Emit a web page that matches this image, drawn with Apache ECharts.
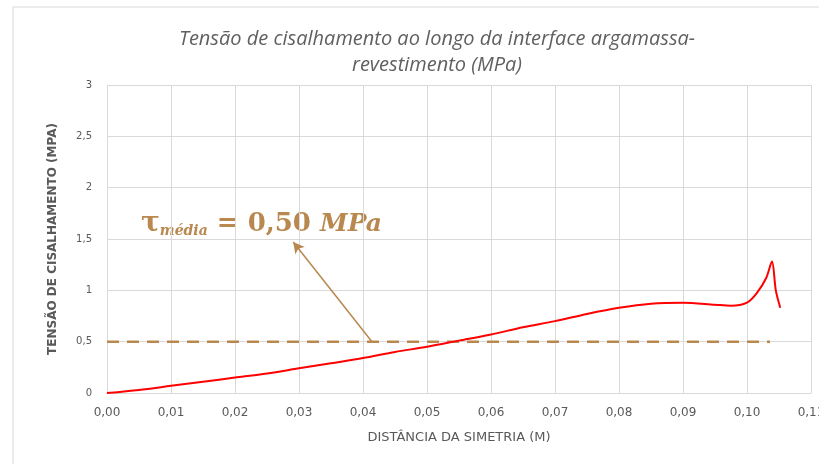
<!DOCTYPE html>
<html>
<head>
<meta charset="utf-8">
<script src="https://cdn.jsdelivr.net/npm/echarts@6/dist/echarts.min.js"></script>
<style>html,body{margin:0;padding:0;background:#fff;}#c{width:819px;height:464px;}</style>
</head>
<body>
<div id="c"></div>
<script>
// Distance from symmetry (m)
const distances = [0, 0.005, 0.01, 0.015, 0.02, 0.025, 0.03, 0.035, 0.04, 0.045, 0.05, 0.055, 0.06, 0.065, 0.07, 0.075, 0.08, 0.085, 0.09, 0.095, 0.0975, 0.1, 0.1015, 0.103, 0.1039, 0.1045, 0.1052];
// Shear stress (MPa)
const shearStress = [0, 0.03, 0.07, 0.11, 0.15, 0.19, 0.24, 0.29, 0.34, 0.40, 0.45, 0.51, 0.57, 0.64, 0.70, 0.77, 0.83, 0.87, 0.88, 0.86, 0.85, 0.88, 0.97, 1.12, 1.28, 1.0, 0.83];
// Average stress line
const avgStress = 0.5;
const avgLineX = [0, 0.1036];
// Arrow annotation endpoints (data units)
const arrowFrom = [0.0414, 0.5];
const arrowTo = [0.0291, 1.47];
const xTicks = ['0,00','0,01','0,02','0,03','0,04','0,05','0,06','0,07','0,08','0,09','0,10','0,11'];
const yTicks = ['0','0,5','1','1,5','2','2,5','3'];

const brown = '#B8884E';
const grey = '#595959';
const chart = echarts.init(document.getElementById('c'), null, {renderer:'canvas'});
const option = {
  animation: false,
  backgroundColor: '#fff',
  title: {
    text: 'Tensão de cisalhamento ao longo da interface argamassa-\nrevestimento (MPa)',
    left: 432, top: 21, textAlign: 'center',
    textStyle: {fontFamily: 'Open Sans', fontStyle: 'italic', fontWeight: 'normal', fontSize: 20, color: '#606060', lineHeight: 26}
  },
  grid: {left: 107, right: 8, top: 85, bottom: 71, outerBoundsMode: 'none', containLabel: false},
  xAxis: {
    type: 'value', min: 0, max: 0.11, interval: 0.01,
    name: 'DISTÂNCIA DA SIMETRIA (M)', nameLocation: 'middle', nameGap: 38,
    nameTextStyle: {fontFamily: 'DejaVu Sans', fontSize: 13, color: grey},
    axisLine: {show: true, lineStyle: {color: '#d9d9d9'}},
    axisTick: {show: false},
    axisLabel: {margin: 14, fontSize: 12, color: grey, fontFamily: 'DejaVu Sans',
      formatter: (v) => xTicks[Math.round(v / 0.01)]},
    splitLine: {show: true, lineStyle: {color: '#d9d9d9', width: 1}}
  },
  yAxis: {
    type: 'value', min: 0, max: 3, interval: 0.5,
    name: 'TENSÃO DE CISALHAMENTO (MPA)', nameLocation: 'middle', nameGap: 48,
    nameTextStyle: {fontFamily: 'DejaVu Sans', fontSize: 12, fontWeight: 'bold', color: grey},
    axisLine: {show: false}, axisTick: {show: false},
    axisLabel: {margin: 15, fontSize: 10, color: grey, fontFamily: 'DejaVu Sans',
      formatter: (v) => yTicks[Math.round(v / 0.5)]},
    splitLine: {show: true, lineStyle: {color: '#d9d9d9', width: 1}}
  },
  graphic: [
    {type: 'rect', shape: {x: 13, y: 7, width: 900, height: 600}, style: {fill: 'none', stroke: '#d9d9d9', lineWidth: 1}, silent: true, z: -1},
    {type: 'text', left: 141, top: 210, style: {
      text: '{t|τ}{s|média}{r| = 0,50 }{m|MPa}',
      rich: {
        t: {fontFamily: 'DejaVu Serif', fontWeight: 'bold', fontSize: 28, fill: brown},
        s: {fontFamily: 'DejaVu Serif', fontWeight: 'bold', fontStyle: 'italic', fontSize: 14, fill: brown, verticalAlign: 'bottom', padding: [14,0,0,0]},
        r: {fontFamily: 'DejaVu Serif', fontWeight: 'bold', fontSize: 26, fill: brown},
        m: {fontFamily: 'DejaVu Serif', fontWeight: 'bold', fontStyle: 'italic', fontSize: 25, fill: brown}
      }
    }}
  ],
  series: [
    {
      type: 'line', data: distances.map((d, i) => [d, shearStress[i]]),
      showSymbol: false, smooth: 0.3, lineStyle: {color: '#FF0000', width: 2}, z: 3
    },
    {
      type: 'line', data: avgLineX.map(x => [x, avgStress]),
      showSymbol: false, lineStyle: {color: brown, width: 2.5, type: [12, 8]}, z: 2,
      markLine: {
        silent: true, symbol: ['none', 'arrow'], symbolSize: [9, 11],
        lineStyle: {color: brown, width: 1.5, type: 'solid'}, label: {show: false},
        data: [[{coord: arrowFrom}, {coord: arrowTo}]]
      }
    }
  ]
};
chart.setOption(option);
</script>
</body>
</html>
